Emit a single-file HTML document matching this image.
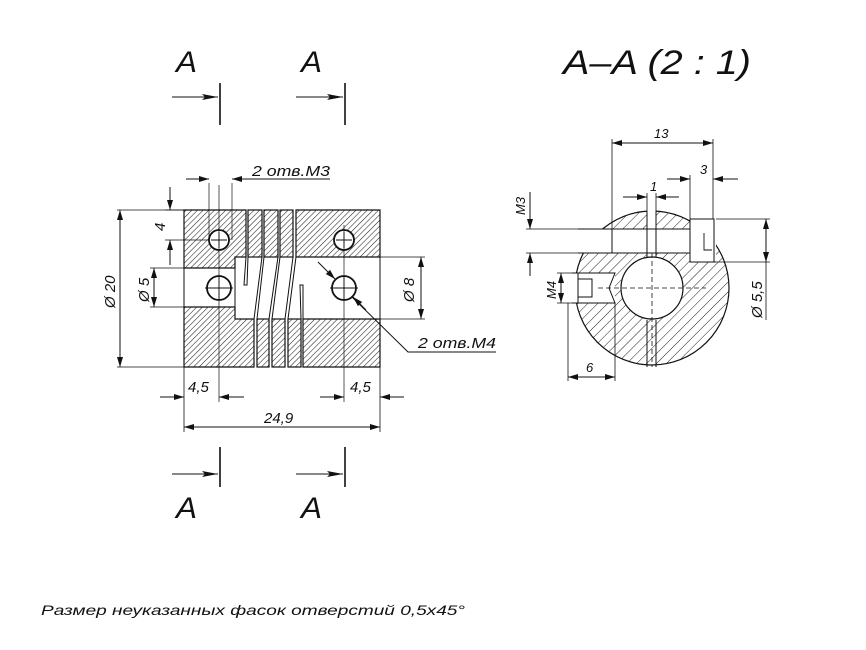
<!DOCTYPE html>
<html><head><meta charset="utf-8"><style>
html,body{margin:0;padding:0;background:#fff;width:866px;height:650px;overflow:hidden}
text{font-family:"Liberation Sans","DejaVu Sans",sans-serif;font-style:italic;fill:#111}
</style></head><body>
<svg width="866" height="650" viewBox="0 0 866 650" xmlns="http://www.w3.org/2000/svg">
<defs>
<pattern id="h1" patternUnits="userSpaceOnUse" width="4" height="4" patternTransform="rotate(45)"><line x1="0" y1="0" x2="0" y2="4" stroke="#222" stroke-width="1.1"/></pattern>
<pattern id="h2" patternUnits="userSpaceOnUse" width="7" height="7" patternTransform="rotate(45)"><line x1="0" y1="0" x2="0" y2="7" stroke="#222" stroke-width="1"/></pattern>
<marker id="a" viewBox="0 0 10 6" refX="10" refY="3" markerWidth="10" markerHeight="6" markerUnits="userSpaceOnUse" orient="auto-start-reverse"><path d="M0,0 L10,3 L0,6z" fill="#111"/></marker>
<marker id="b" viewBox="0 0 16 6" refX="16" refY="3" markerWidth="16" markerHeight="6" markerUnits="userSpaceOnUse" orient="auto"><path d="M0,0 L16,3 L0,6 L3,3z" fill="#111"/></marker>
</defs>
<g stroke="#111" fill="none" stroke-width="1">
<line x1="172" y1="97" x2="218" y2="97" marker-end="url(#b)"/><line x1="220" y1="83" x2="220" y2="125" stroke-width="1.6"/>
<line x1="296" y1="97" x2="343" y2="97" marker-end="url(#b)"/><line x1="345" y1="83" x2="345" y2="125" stroke-width="1.6"/>
<line x1="172" y1="474" x2="218" y2="474" marker-end="url(#b)"/><line x1="220" y1="447" x2="220" y2="487" stroke-width="1.6"/>
<line x1="296" y1="474" x2="343" y2="474" marker-end="url(#b)"/><line x1="345" y1="447" x2="345" y2="487" stroke-width="1.6"/>

<g fill="url(#h1)" stroke="#111" stroke-width="1.2">
<path d="M184,210 H246 V257 H235 V268 H184Z"/>
<rect x="248" y="210" width="14" height="47"/>
<rect x="264" y="210" width="14" height="47"/>
<rect x="280" y="210" width="13" height="47"/>
<path d="M296,210 H380 V257 H296Z"/>
<path d="M184,307 H235 V319 H254 V367 H184Z"/>
<rect x="257" y="319" width="12" height="48"/>
<rect x="272" y="319" width="13" height="48"/>
<rect x="288" y="319" width="13" height="48"/>
<path d="M303,319 H380 V367 H303Z"/>
</g>
<path d="M184,268 V307 M235,257 V319 M380,257 V319"/>
<path d="M246,257 L244,285 L247,285 L248,257"/>
<path d="M262,257 L254,319 M264,257 L257,319"/>
<path d="M278,257 L269,319 M280,257 L272,319"/>
<path d="M293,257 L285,319 M296,257 L288,319"/>
<path d="M301,319 L300,285 L303,285 L303,319"/>
<g stroke-width="1.8" fill="#fff"><circle cx="219" cy="240" r="10"/><circle cx="344" cy="240" r="10"/><circle cx="219" cy="288" r="12"/><circle cx="344" cy="288" r="12"/></g>
<path d="M211,240 H227 M219,232 V248 M336,240 H352 M344,232 V248 M205,288 H233 M219,276 V300 M330,288 H358 M344,276 V300" stroke-width="0.9"/>
<path d="M219,185 V402 M344,225 V402" stroke-width="0.7"/>
<line x1="209" y1="183" x2="209" y2="240" stroke-width="0.7"/><line x1="232" y1="183" x2="232" y2="240" stroke-width="0.7"/>
<line x1="186" y1="179" x2="209" y2="179" marker-end="url(#a)"/><line x1="330" y1="179" x2="232" y2="179" marker-end="url(#a)"/>
<path d="M165,210 H184 M165,240 H209" stroke-width="0.8"/>
<line x1="170" y1="187" x2="170" y2="210" marker-end="url(#a)"/><line x1="170" y1="265" x2="170" y2="240" marker-end="url(#a)"/>
<path d="M117,210 H184 M117,367 H184" stroke-width="0.8"/>
<line x1="120" y1="288" x2="120" y2="210" marker-end="url(#a)"/><line x1="120" y1="288" x2="120" y2="367" marker-end="url(#a)"/>
<path d="M150,268 H184 M150,307 H184" stroke-width="0.8"/>
<line x1="154" y1="288" x2="154" y2="268" marker-end="url(#a)"/><line x1="154" y1="288" x2="154" y2="307" marker-end="url(#a)"/>
<path d="M300,257 H425 M380,319 H425" stroke-width="0.8"/>
<line x1="421" y1="288" x2="421" y2="257" marker-end="url(#a)"/><line x1="421" y1="288" x2="421" y2="319" marker-end="url(#a)"/>
<line x1="318" y1="262" x2="335" y2="279" marker-end="url(#a)"/>
<path d="M352,297 L408,352 H496"/>
<line x1="366" y1="310" x2="353" y2="297" marker-end="url(#a)"/>
<line x1="184" y1="367" x2="184" y2="432" stroke-width="0.8"/><line x1="380" y1="367" x2="380" y2="432" stroke-width="0.8"/>
<line x1="160" y1="397" x2="184" y2="397" marker-end="url(#a)"/><line x1="244" y1="397" x2="219" y2="397" marker-end="url(#a)"/>
<line x1="320" y1="397" x2="344" y2="397" marker-end="url(#a)"/><line x1="404" y1="397" x2="380" y2="397" marker-end="url(#a)"/>
<line x1="282" y1="427" x2="184" y2="427" marker-end="url(#a)"/><line x1="282" y1="427" x2="380" y2="427" marker-end="url(#a)"/>

<circle cx="652" cy="288" r="77" fill="url(#h2)" stroke-width="1.2"/>
<rect x="578" y="229" width="112" height="24" fill="#fff" stroke="none"/>
<rect x="647" y="205" width="9" height="60" fill="#fff" stroke="none"/>
<rect x="690" y="219" width="26" height="43" fill="#fff" stroke="none"/>
<rect x="572" y="273" width="43" height="30" fill="#fff" stroke="none"/>
<circle cx="652" cy="288" r="31" fill="#fff" stroke-width="1.2"/>
<path d="M578,229 H690 M578,253 H690 M612,229 V253 M647,211 V257 M656,211 V257 M690,219 V262 H716 M690,219 H714 V262" />
<path d="M572,273 H615 L609,288 L615,303 H572 M578,279 H592 V297 H578 M578,273 V303"/>
<path d="M598,288 H706 M652,253 V367" stroke-dasharray="5,3" stroke-width="0.8"/>
<path d="M647,320 V367 M656,320 V367"/>
<path d="M704,233 V250 H712" stroke-width="0.9"/>
<path d="M612,139 V253 M713,139 V219" stroke-width="0.8"/>
<line x1="662" y1="143" x2="612" y2="143" marker-end="url(#a)"/><line x1="662" y1="143" x2="713" y2="143" marker-end="url(#a)"/>
<path d="M690,175 V219" stroke-width="0.8"/>
<line x1="667" y1="179" x2="690" y2="179" marker-end="url(#a)"/><line x1="738" y1="179" x2="713" y2="179" marker-end="url(#a)"/>
<path d="M647,193 V211 M656,193 V211" stroke-width="0.8"/>
<line x1="623" y1="197" x2="647" y2="197" marker-end="url(#a)"/><line x1="679" y1="197" x2="656" y2="197" marker-end="url(#a)"/>
<path d="M526,229 H578 M526,253 H578" stroke-width="0.8"/>
<line x1="530" y1="192" x2="530" y2="229" marker-end="url(#a)"/><line x1="530" y1="276" x2="530" y2="253" marker-end="url(#a)"/>
<path d="M557,273 H572 M557,303 H572" stroke-width="0.8"/>
<line x1="561" y1="288" x2="561" y2="273" marker-end="url(#a)"/><line x1="561" y1="288" x2="561" y2="303" marker-end="url(#a)"/>
<path d="M716,219 H770 M690,262 H770" stroke-width="0.8"/>
<line x1="766" y1="240" x2="766" y2="219" marker-end="url(#a)"/><line x1="766" y1="240" x2="766" y2="262" marker-end="url(#a)"/>
<line x1="766" y1="262" x2="766" y2="320" stroke-width="0.8"/>
<path d="M568,303 V381 M615,303 V381" stroke-width="0.8"/>
<line x1="592" y1="377" x2="568" y2="377" marker-end="url(#a)"/><line x1="592" y1="377" x2="615" y2="377" marker-end="url(#a)"/>
</g>

<g>
<text x="176" y="72" font-size="30" textLength="21" lengthAdjust="spacingAndGlyphs">A</text>
<text x="301" y="72" font-size="30" textLength="21" lengthAdjust="spacingAndGlyphs">A</text>
<text x="176" y="518" font-size="30" textLength="21" lengthAdjust="spacingAndGlyphs">A</text>
<text x="301" y="518" font-size="30" textLength="21" lengthAdjust="spacingAndGlyphs">A</text>
<text x="563" y="74" font-size="34" textLength="188" lengthAdjust="spacingAndGlyphs">A–A (2 : 1)</text>
<text x="252" y="176" font-size="15" textLength="78" lengthAdjust="spacingAndGlyphs">2 отв.М3</text>
<text x="418" y="348" font-size="15" textLength="78" lengthAdjust="spacingAndGlyphs">2 отв.М4</text>
<text x="188" y="392" font-size="15">4,5</text>
<text x="350" y="392" font-size="15">4,5</text>
<text x="264" y="423" font-size="15">24,9</text>
<text font-size="15" transform="translate(165,231) rotate(-90)">4</text>
<text font-size="15" transform="translate(115,308) rotate(-90)">Ø 20</text>
<text font-size="15" transform="translate(149,302) rotate(-90)">Ø 5</text>
<text font-size="15" transform="translate(414,302) rotate(-90)">Ø 8</text>
<text x="654" y="138" font-size="13">13</text>
<text x="700" y="174" font-size="13">3</text>
<text x="650" y="191" font-size="13">1</text>
<text x="586" y="372" font-size="13">6</text>
<text font-size="13" transform="translate(525,215) rotate(-90)">M3</text>
<text font-size="13" transform="translate(556,299) rotate(-90)">M4</text>
<text font-size="15" transform="translate(762,318) rotate(-90)">Ø 5,5</text>
<text x="41" y="615" font-size="14" textLength="424" lengthAdjust="spacingAndGlyphs">Размер неуказанных фасок отверстий 0,5х45°</text>
</g>
</svg>
</body></html>
